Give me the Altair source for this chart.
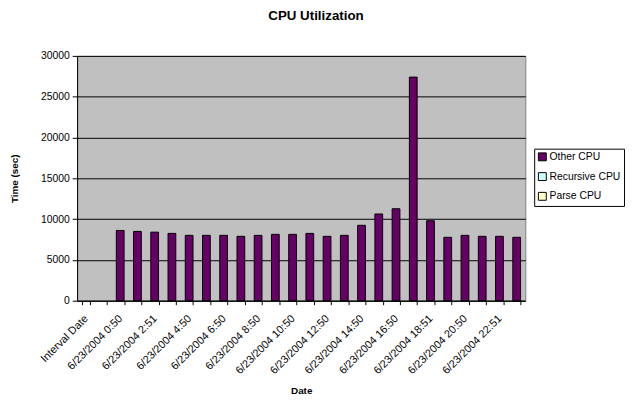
import json
import altair as alt
import pandas as pd

categories = ["Interval Date", "6/22/2004 23:50",
              "6/23/2004 0:50", "6/23/2004 1:50", "6/23/2004 2:51", "6/23/2004 3:50",
              "6/23/2004 4:50", "6/23/2004 5:50", "6/23/2004 6:50", "6/23/2004 7:50",
              "6/23/2004 8:50", "6/23/2004 9:50", "6/23/2004 10:50", "6/23/2004 11:50",
              "6/23/2004 12:50", "6/23/2004 13:50", "6/23/2004 14:50", "6/23/2004 15:50",
              "6/23/2004 16:50", "6/23/2004 17:50", "6/23/2004 18:51", "6/23/2004 19:50",
              "6/23/2004 20:50", "6/23/2004 21:50", "6/23/2004 22:51", "6/23/2004 23:50"]
other_cpu = [None, None,
             8610, 8490, 8400, 8250, 8010, 8010, 8010, 7890, 8010, 8130, 8130, 8250,
             7890, 8010, 9240, 10630, 11270, 27400, 9800, 7770, 8010, 7890, 7890, 7770]
series = ["Other CPU", "Recursive CPU", "Parse CPU"]
series_colors = ["#660066", "#CCFFFF", "#FFFFCC"]
shown_labels = categories[0::2]
y_ticks = [0, 5000, 10000, 15000, 20000, 25000, 30000]

df = pd.DataFrame({"Date": categories, "Time": other_cpu, "Series": "Other CPU"})
df = df.dropna()

FONT = "Liberation Sans"

label_expr = "indexof(" + json.dumps(shown_labels) + ", datum.value) >= 0 ? datum.value : ''"

chart = alt.Chart(df).mark_bar(stroke="black", strokeWidth=1).encode(
    x=alt.X("Date:N", sort=categories,
            scale=alt.Scale(domain=categories, paddingInner=0.55, paddingOuter=0.275),
            axis=alt.Axis(title="Date", labelAngle=-45, tickBand="extent", tickSize=4,
                          labelExpr=label_expr, labelPadding=8, labelOffset=-4,
                          labelFontSize=11, titleFontSize=10, titleFontWeight="bold",
                          titleY=94, titleBaseline="alphabetic", grid=False)),
    y=alt.Y("Time:Q", scale=alt.Scale(domain=[0, 30000], nice=False),
            axis=alt.Axis(title="Time (sec)", values=y_ticks, format="d", grid=True,
                          gridColor="#000000", gridOpacity=1, gridWidth=1, tickSize=5,
                          labelPadding=3, labelFontSize=10.5, titleFontSize=10,
                          titleFontWeight="bold", titleX=-63, titleY=124,
                          titleBaseline="middle")),
    color=alt.Color("Series:N", scale=alt.Scale(domain=series, range=series_colors),
                    legend=alt.Legend(title=None, orient="none", legendX=463, legendY=94,
                                      strokeColor="black", fillColor="white", padding=3,
                                      symbolType="square", symbolStrokeColor="black",
                                      symbolStrokeWidth=1, symbolSize=64,
                                      labelFontSize=10.5, labelFont=FONT, rowPadding=7,
                                      labelOffset=2)),
).properties(
    width=454, height=248,
    title=alt.TitleParams("CPU Utilization", font=FONT, fontSize=13.5, fontWeight="bold",
                          anchor="middle", offset=29, dx=15),
    autosize=alt.AutoSizeParams(type="none"),
    padding={"left": 70, "top": 46, "right": 102, "bottom": 94},
).configure_view(
    fill="#C0C0C0", stroke="#808080", strokeWidth=1
).configure_axis(
    labelFont=FONT, titleFont=FONT, labelColor="black", titleColor="black",
    domainColor="black", tickColor="black"
)

chart.save("out.html", embed_options={"renderer": "svg", "actions": False})
